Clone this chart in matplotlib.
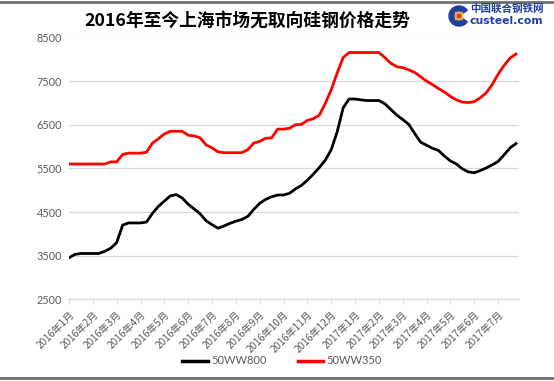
import matplotlib
matplotlib.use("Agg")
import matplotlib.pyplot as plt
from matplotlib.lines import Line2D
from matplotlib.patches import Wedge, Rectangle

plt.rcParams['font.family'] = ['Noto Sans CJK SC', 'DejaVu Sans']

title = "2016年至今上海市场无取向硅钢价格走势"
month_labels = ["2016年1月", "2016年2月", "2016年3月", "2016年4月", "2016年5月", "2016年6月",
                "2016年7月", "2016年8月", "2016年9月", "2016年10月", "2016年11月", "2016年12月",
                "2017年1月", "2017年2月", "2017年3月", "2017年4月", "2017年5月", "2017年6月",
                "2017年7月"]
series_names = ["50WW800", "50WW350"]

ww800 = [3450, 3530, 3550, 3550, 3550, 3550, 3600, 3670, 3800, 4200,
         4250, 4250, 4250, 4270, 4470, 4630, 4750, 4870, 4900, 4820,
         4680, 4570, 4460, 4300, 4210, 4130, 4180, 4240, 4290, 4330,
         4400, 4560, 4700, 4790, 4850, 4890, 4890, 4930, 5030, 5110,
         5230, 5370, 5520, 5690, 5930, 6340, 6890, 7090, 7090, 7070,
         7055, 7055, 7055, 6980, 6850, 6720, 6620, 6510, 6300, 6100,
         6030, 5960, 5910, 5780, 5670, 5600, 5490, 5420, 5400, 5450,
         5510, 5580, 5660, 5810, 5970, 6070]

ww350 = [5600, 5600, 5600, 5600, 5600, 5600, 5600, 5650, 5650, 5820,
         5850, 5850, 5850, 5870, 6080, 6180, 6290, 6350, 6350, 6350,
         6260, 6245, 6200, 6040, 5970, 5880, 5860, 5860, 5860, 5860,
         5930, 6080, 6120, 6190, 6200, 6400, 6400, 6420, 6500, 6510,
         6600, 6640, 6720, 6990, 7300, 7690, 8040, 8156, 8156, 8156,
         8156, 8156, 8156, 8040, 7910, 7830, 7810, 7760, 7700, 7600,
         7500, 7420, 7330, 7250, 7150, 7070, 7020, 7010, 7030, 7120,
         7230, 7420, 7660, 7860, 8030, 8120]

y_ticks = [2500, 3500, 4500, 5500, 6500, 7500, 8500]
label_step = 4

W, H = 554, 381
fig = plt.figure(figsize=(W / 100, H / 100), dpi=100)
ax = fig.add_axes([69 / W, 1 - 299.3 / H, (519 - 69) / W, (299.3 - 37.5) / H])

x = list(range(len(ww800)))
ax.plot(x, ww800, color='black', lw=2.0, solid_joinstyle='round', label=series_names[0])
ax.plot(x, ww350, color='#FF0000', lw=2.0, solid_joinstyle='round', label=series_names[1])

ax.set_ylim(2500, 8500)
ax.set_yticks(y_ticks)
ax.set_xlim(0, 75.5)
ticks = [i * label_step for i in range(len(month_labels))]
ax.set_xticks(ticks)
ax.set_xticklabels(month_labels, rotation=45, ha='right', va='top',
                   rotation_mode='anchor', fontsize=7.3, color='#595959')
for lab in ax.get_yticklabels():
    lab.set_fontfamily(['Lato', 'DejaVu Sans'])
ax.tick_params(axis='y', length=0, labelsize=7.8, labelcolor='#595959', pad=5)
ax.tick_params(axis='x', length=3, color='#D9D9D9', direction='out', pad=4)
ax.grid(axis='y', color='#D9D9D9', lw=0.9)
ax.set_axisbelow(True)
for s in ['top', 'right', 'left']:
    ax.spines[s].set_visible(False)
ax.spines['bottom'].set_color('#D9D9D9')
ax.spines['bottom'].set_linewidth(0.9)

fig.text(247 / W, 1 - 22 / H, title, ha='center', va='center', fontsize=12.8,
         fontweight='bold', color='black')

# logo
ax_logo = fig.add_axes([0, 0, 1, 1], facecolor='none')
ax_logo.set_xlim(0, W)
ax_logo.set_ylim(H, 0)
ax_logo.axis('off')
ax_logo.add_patch(Wedge((459, 16), 10, 35, 325, width=5, color='#1f3f9f'))
ax_logo.add_patch(Rectangle((455, 12), 7, 7, color='#e8b040'))
ax_logo.add_patch(Rectangle((457, 14), 3, 3, color='#d04020'))
ax_logo.text(470, 9, "中国联合钢铁网", fontsize=7.6, fontweight='bold', color='#1f3f9f',
             ha='left', va='center')
ax_logo.text(470, 21, "custeel.com", fontsize=7.8, fontweight='bold', color='#1f3f9f',
             ha='left', va='center', family=['DejaVu Sans'])
# border lines
ax_logo.plot([0, W], [2, 2], color='#707070', lw=2)
ax_logo.plot([0, W], [378, 378], color='#707070', lw=2)

handles = [Line2D([], [], color='black', lw=2.5), Line2D([], [], color='#FF0000', lw=2.5)]
leg = fig.legend(handles, series_names, loc='center', bbox_to_anchor=(282 / W, 1 - 361 / H),
                 ncol=2, frameon=False, handlelength=2.3, handletextpad=0.3,
                 columnspacing=2.8, prop={'family': ['Lato', 'DejaVu Sans'], 'size': 8})
for t in leg.get_texts():
    t.set_color('#595959')

fig.savefig('out.png', dpi=100)
